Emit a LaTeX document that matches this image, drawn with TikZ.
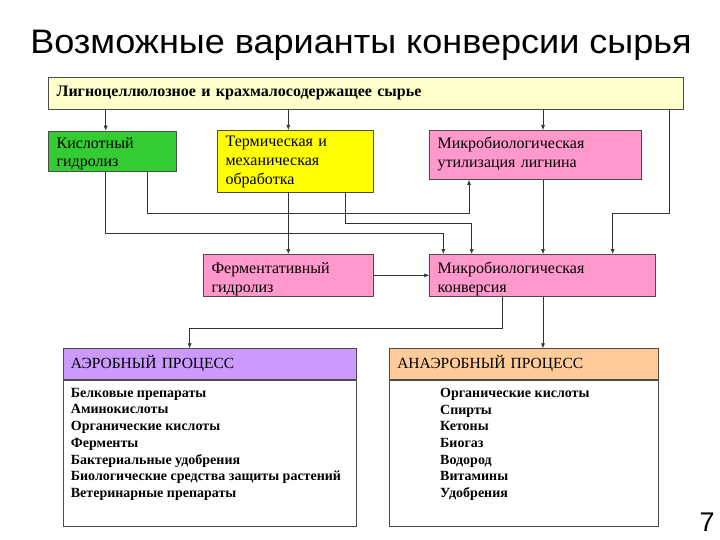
\documentclass[tikz,border=0pt]{standalone}
\usepackage{fontspec}
\setmainfont{Liberation Serif}
\newfontfamily\titlefont{Liberation Sans}
\usepackage{tikz}
\usetikzlibrary{arrows.meta,positioning}
\definecolor{rawc}{RGB}{255,255,204}
\definecolor{acidc}{RGB}{51,204,51}
\definecolor{therc}{RGB}{255,255,0}
\definecolor{pinkc}{RGB}{255,153,204}
\definecolor{lavc}{RGB}{204,153,255}
\definecolor{peachc}{RGB}{255,204,153}

\begin{document}
\begin{tikzpicture}[x=1pt,y=-1pt,
  blk/.style={draw=black!70,line width=0.6pt,anchor=north west,align=left,inner xsep=8pt,inner ysep=0pt,font=\fontsize{16}{18.7}\selectfont},
  arr/.style={-{Latex[length=5pt,width=4pt]},line width=0.6pt,draw=black!80},
  lst/.style={anchor=north west,align=left,inner sep=0pt,font=\bfseries\fontsize{14}{16.7}\selectfont}]
  \useasboundingbox (0,0) rectangle (720,540);

  % title
  \node[font=\titlefont\fontsize{34}{40}\selectfont,xscale=1.06,anchor=base] (title) at (361,53.3) {Возможные варианты конверсии сырья};

  % raw material bar
  \node[blk,fill=rawc,font=\bfseries\fontsize{16}{18.7}\selectfont,text width=618.4pt,minimum height=31.7pt,text height=19.4pt,text depth=12.3pt] (raw) at (48.3,77.3) {Лигноцеллюлозное и крахмалосодержащее сырье};

  % first row
  \node[blk,fill=acidc,text width=111.7pt,minimum height=40.3pt,text height=17.3pt,text depth=23pt] (acid) at (48.3,130.7) {Кислотный\\гидролиз};
  \node[blk,fill=therc,text width=139.4pt,minimum height=61.7pt,text height=16.7pt,text depth=45pt] (therm) at (217.3,130) {Термическая и\\механическая\\обработка};
  \node[blk,fill=pinkc,text width=195.4pt,minimum height=49.3pt,text height=18.3pt,text depth=31pt] (lig) at (429.3,130) {Микробиологическая\\утилизация лигнина};

  % second row
  \node[blk,fill=pinkc,text width=153.4pt,minimum height=42pt,text height=19.3pt,text depth=22.7pt] (ferm) at (203.3,254) {Ферментативный\\гидролиз};
  \node[blk,fill=pinkc,text width=209.7pt,minimum height=42pt,text height=19.3pt,text depth=22.7pt] (conv) at (429.3,254) {Микробиологическая\\конверсия};

  % aerobic process
  \node[blk,fill=lavc,font=\fontsize{15.5}{18}\selectfont,text width=277.5pt,minimum height=31pt,text height=20pt,text depth=11pt] (aerhead) at (62.5,348.3) {АЭРОБНЫЙ ПРОЦЕСС};
  \node[blk,minimum width=293.5pt,minimum height=145.7pt] (aerbody) at (aerhead.south west) {};
  \node[lst,below right=8pt and 8.2pt of aerbody.north west] (aerlist) {Белковые препараты\\Аминокислоты\\Органические кислоты\\Ферменты\\Бактериальные удобрения\\Биологические средства защиты растений\\Ветеринарные препараты};

  % anaerobic process
  \node[blk,fill=peachc,font=\fontsize{15.5}{18}\selectfont,text width=253pt,minimum height=31pt,text height=20pt,text depth=11pt] (anhead) at (389,348.3) {АНАЭРОБНЫЙ ПРОЦЕСС};
  \node[blk,minimum width=269pt,minimum height=145.7pt] (anbody) at (anhead.south west) {};
  \node[lst,below right=8pt and 51pt of anbody.north west] (anlist) {Органические кислоты\\Спирты\\Кетоны\\Биогаз\\Водород\\Витамины\\Удобрения};

  % bends of the connectors
  \coordinate (a1) at (105.7,233.3);
  \coordinate (a2) at (443.3,233.3);
  \coordinate (b1) at (147.3,213.3);
  \coordinate (b2) at (469,213.3);
  \coordinate (c1) at (345,223.5);
  \coordinate (c2) at (471.7,223.5);
  \coordinate (d1) at (669.3,213.3);
  \coordinate (d2) at (612.7,213.3);
  \coordinate (e1) at (502,328.3);
  \coordinate (e2) at (189.7,328.3);
  \coordinate (xt) at (288.3,0);
  \coordinate (xl) at (543,0);

  % connectors
  \draw[arr] (raw.south -| a1) -- (acid.north -| a1);
  \draw[arr] (raw.south -| xt) -- (therm.north -| xt);
  \draw[arr] (raw.south -| xl) -- (lig.north -| xl);
  \draw[arr] (raw.south -| d1) -- (d1) -- (d2) -- (conv.north -| d2);
  \draw[arr] (acid.south -| a1) -- (a1) -- (a2) -- (conv.north -| a2);
  \draw[arr] (acid.south -| b1) -- (b1) -- (b2) -- (lig.south -| b2);
  \draw[arr] (therm.south -| xt) -- (ferm.north -| xt);
  \draw[arr] (therm.south -| c1) -- (c1) -- (c2) -- (conv.north -| c2);
  \draw[arr] (lig.south -| xl) -- (conv.north -| xl);
  \draw[arr] (ferm) -- (conv);
  \draw[arr] (conv.south -| e1) -- (e1) -- (e2) -- (aerhead.north -| e2);
  \draw[arr] (conv.south -| xl) -- (anhead.north -| xl);

  % page number
  \node[font=\titlefont\fontsize{27}{27}\selectfont,anchor=base] (pg) at (707,531) {7};
\end{tikzpicture}
\end{document}
